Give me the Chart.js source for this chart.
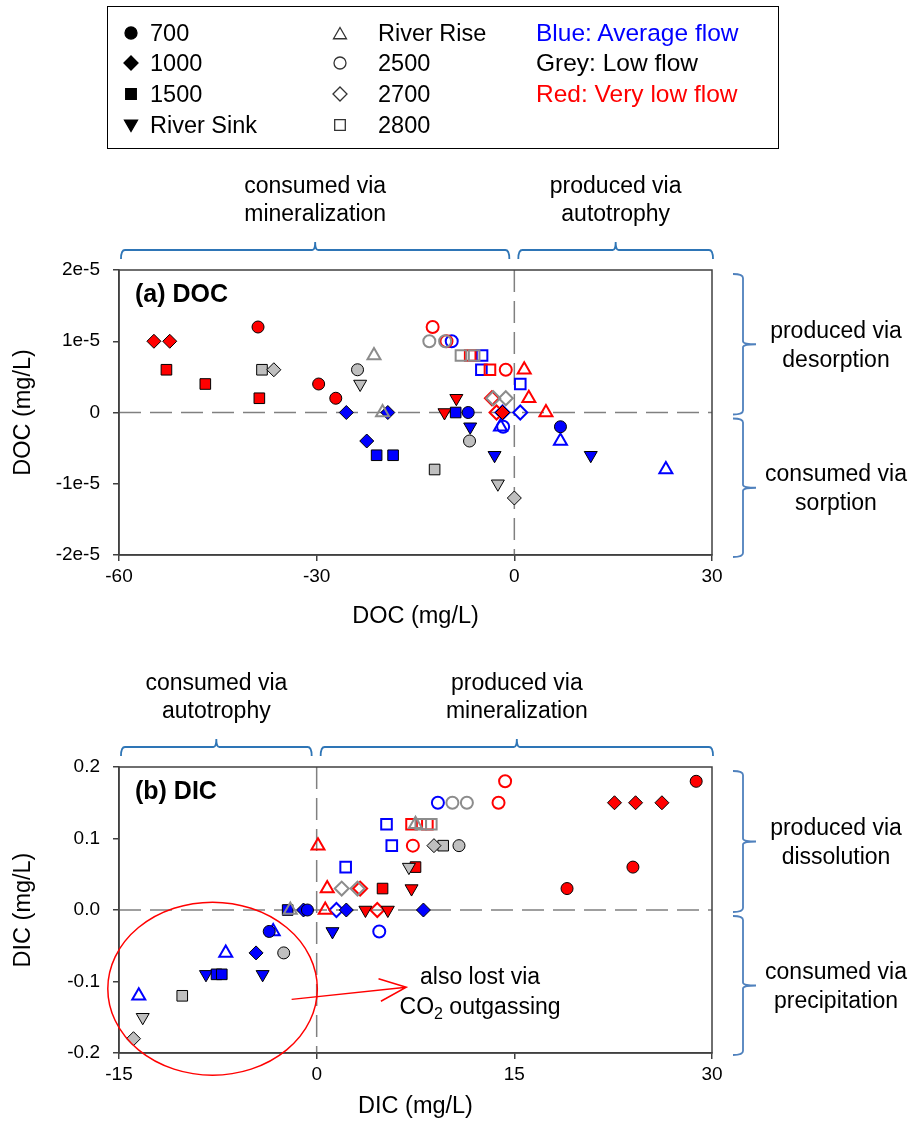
<!DOCTYPE html>
<html>
<head>
<meta charset="utf-8">
<script src="https://cdn.jsdelivr.net/npm/chart.js@4"></script>
<style>
  body { margin: 0; background: #fff; width: 909px; height: 1124px; position: relative; overflow: hidden;
         font-family: 'Liberation Sans', Arial, sans-serif; }
  #legendBox { position: absolute; left: 107px; top: 6px; width: 672px; height: 143px; border: 1.5px solid #000; box-sizing: border-box; }
  .lt { position: absolute; font-size: 23.5px; line-height: 26px; white-space: nowrap; }
  canvas { position: absolute; left: 0; }
</style>
</head>
<body>
<div id="legendBox"></div>
<canvas id="legendMarks" width="909" height="150" style="top:0px"></canvas>
<canvas id="docChart" width="909" height="490" style="top:160px"></canvas>
<canvas id="dicChart" width="909" height="464" style="top:660px"></canvas>
<script>
// ---- data ----
// sites: 700, 1000, 1500, Sink (River Sink), Rise (River Rise), 2500, 2700, 2800
// flows: avg (blue), low (grey), vlow (red)

// (a) DOC
const docX = [-54.7, -52.3, -38.9, -52.8, -46.9, -29.7, -38.7, -27.1, -12.4, -10.3, -6.7, -3.7, -1.3, 1.5, 2.2, 4.8, -3.4, -2.7, -8.8, -10.6, -1.8,
              -38.3, -36.5, -21.3, -20.0, -23.8, -6.8, -23.4, -2.5, -12.1, -12.9, -10.5, -8.1, -6.1, -3.2, -1.3, 0.0,
              -25.5, -19.2, -22.4, -20.9, -18.4, -8.9, -7.0, 7.0, -6.7, -3.0, 11.6, -2.1, 7.0, 23.0, -9.5, -1.7, -1.8, 0.9, -4.9, -5.0, 0.9];
const docY = [1.0e-5, 1.0e-5, 1.2e-5, 0.6e-5, 0.4e-5, 0.4e-5, 0.2e-5, 0.2e-5, 1.2e-5, 1.0e-5, 0.8e-5, 0.6e-5, 0.6e-5, 0.6e-5, 0.2e-5, 0, 0.2e-5, 0, 0.2e-5, 0, 0,
              0.6e-5, 0.6e-5, 0.8e-5, 0, 0.6e-5, -0.4e-5, 0.4e-5, -1.0e-5, -0.8e-5, 1.0e-5, 1.0e-5, 0.8e-5, 0.8e-5, 0.2e-5, 0.2e-5, -1.2e-5,
              0, 0, -0.4e-5, -0.6e-5, -0.6e-5, 0, 0, -0.2e-5, -0.2e-5, -0.6e-5, -0.6e-5, -0.2e-5, -0.4e-5, -0.8e-5, 1.0e-5, -0.2e-5, 0, 0, 0.8e-5, 0.6e-5, 0.4e-5];
const docSite = ['1000', '1000', '700', '1500', '1500', '700', '1500', '700', '2500', '2500', '2800', '2800', '2500', 'Rise', 'Rise', 'Rise', '2700', '2700', 'Sink', 'Sink', '1000',
                 '1500', '1000', 'Rise', 'Rise', '700', '700', 'Sink', 'Sink', '1500', '2500', '2500', '2800', '2800', '2700', '2700', '1000',
                 '1000', '1000', '1000', '1500', '1500', '1500', '700', '700', 'Sink', 'Sink', 'Sink', 'Rise', 'Rise', 'Rise', '2500', '2500', '2700', '2700', '2800', '2800', '2800'];
const docFlow = [...Array(21).fill('vlow'), ...Array(16).fill('low'), ...Array(21).fill('avg')];

// (b) DIC
const dicX = [0.1, 0.8, 0.65, 3.3, 4.6, 5.0, 7.5, 7.2, 3.7, 5.4, 7.3, 13.8, 14.3, 7.2, 8.4, 28.8, 24.0, 19.0, 22.6, 24.2, 26.2,
              -2.0, 7.5, -2.5, 10.8, -10.2, 9.6, -13.2, 7.0, -13.9, 8.9, 1.9, 3.1, 10.3, 11.4, 7.9, 8.7,
              -2.2, -7.6, -7.2, -1.0, -4.6, 2.25, 8.1, -0.7, -3.6, -3.3, -6.9, -13.5, -8.4, -4.1, 1.2, 1.5, 4.75, 9.2, 2.2, 5.7, 5.3];
const dicY = [0.09, 0.03, 0, 0.03, 0, 0.03, 0.06, 0.03, 0, 0, 0.09, 0.15, 0.18, 0.12, 0.12, 0.18, 0.06, 0.03, 0.15, 0.15, 0.15,
              0, 0.12, -0.06, 0.09, -0.12, 0.09, -0.15, 0.06, -0.18, 0.09, 0.03, 0.03, 0.15, 0.15, 0.12, 0.12,
              0, -0.09, -0.09, 0, -0.06, 0, 0, 0, -0.03, -0.03, -0.06, -0.12, -0.09, -0.09, -0.03, 0, -0.03, 0.15, 0.06, 0.09, 0.12];
const dicSite = ['Rise', 'Rise', 'Rise', '2700', '2700', '1500', '1500', 'Sink', 'Sink', 'Sink', '2500', '2500', '2500', '2800', '2800', '700', '700', '700', '1000', '1000', '1000',
                 'Rise', 'Rise', '700', '700', '1500', '1500', 'Sink', 'Sink', '1000', '1000', '2700', '2700', '2500', '2500', '2800', '2800',
                 '1500', '1500', '1500', '1000', '1000', '1000', '1000', '700', '700', 'Rise', 'Rise', 'Rise', 'Sink', 'Sink', 'Sink', '2700', '2500', '2500', '2800', '2800', '2800'];
const dicFlow = [...Array(21).fill('vlow'), ...Array(16).fill('low'), ...Array(21).fill('avg')];

// tick labels
const docYTicks = ['-2e-5', '-1e-5', '0', '1e-5', '2e-5'];
const dicYTicks = ['-0.2', '-0.1', '0.0', '0.1', '0.2'];

// legend texts
const legendSites = ['700', '1000', '1500', 'River Sink', 'River Rise', '2500', '2700', '2800'];
const legendKeys = ['700', '1000', '1500', 'Sink', 'Rise', '2500', '2700', '2800'];
const flowLabels = ['Blue: Average flow', 'Grey: Low flow', 'Red: Very low flow'];
const flowLabelColors = ['#0000ff', '#000000', '#ff0000'];

// ---- styles ----
const siteKeys = ['700', '1000', '1500', 'Sink', 'Rise', '2500', '2700', '2800'];
const siteStyle = {
  '700':  { shape: 'circle',   filled: true,  r: 6 },
  '1000': { shape: 'rectRot',  filled: true,  r: 7 },
  '1500': { shape: 'rect',     filled: true,  r: 7.5 },
  'Sink': { shape: 'triangle', filled: true,  r: 7.5, rot: 180 },
  'Rise': { shape: 'triangle', filled: false, r: 7.5 },
  '2500': { shape: 'circle',   filled: false, r: 6 },
  '2700': { shape: 'rectRot',  filled: false, r: 7 },
  '2800': { shape: 'rect',     filled: false, r: 7.5 }
};
const fillColor = { avg: '#0000ff', low: '#bfbfbf', vlow: '#ff0000' };
const lineColor = { avg: '#0000ff', low: '#8c8c8c', vlow: '#ff0000' };

Chart.defaults.font.family = "'Liberation Sans', Arial, sans-serif";
Chart.defaults.color = '#000';

// legend (text as html, markers with chart.js point drawing)
{
  const rowsY = [33, 63, 94, 125];
  const lctx = document.getElementById('legendMarks').getContext('2d');
  legendSites.forEach((s, i) => {
    const col = Math.floor(i / 4), row = i % 4;
    const st = siteStyle[legendKeys[i]];
    lctx.save();
    lctx.fillStyle = st.filled ? '#000' : '#fff';
    lctx.strokeStyle = st.filled ? '#000' : '#333';
    lctx.lineWidth = 1.3;
    Chart.helpers.drawPoint(lctx, { pointStyle: st.shape, radius: st.r, rotation: st.rot || 0, borderWidth: 1.3 },
                            col ? 340 : 131, rowsY[row] + (st.shape === 'triangle' ? (st.rot ? -1 : 2) : 0));
    lctx.restore();
    const t = document.createElement('span');
    t.className = 'lt';
    t.textContent = s;
    t.style.left = (col ? 378 : 150) + 'px';
    t.style.top = (rowsY[row] - 13) + 'px';
    document.body.appendChild(t);
  });
  flowLabels.forEach((s, i) => {
    const t = document.createElement('span');
    t.className = 'lt';
    t.textContent = s;
    t.style.color = flowLabelColors[i];
    t.style.left = '536px';
    t.style.fontSize = '24.5px';
    t.style.top = (rowsY[i] - 13) + 'px';
    document.body.appendChild(t);
  });
}

function buildDatasets(xs, ys, sites, flows) {
  const out = [];
  ['low', 'vlow', 'avg'].forEach(f => {
    siteKeys.forEach(s => {
      const pts = [];
      for (let i = 0; i < xs.length; i++) {
        if (flows[i] === f && sites[i] === s) pts.push({ x: xs[i], y: ys[i] });
      }
      if (!pts.length) return;
      const st = siteStyle[s];
      out.push({
        label: s + ' ' + f,
        data: pts,
        pointStyle: st.shape,
        rotation: st.rot || 0,
        pointRadius: st.r,
        pointHoverRadius: st.r,
        backgroundColor: st.filled ? fillColor[f] : 'rgba(0,0,0,0)',
        borderColor: st.filled ? '#000' : lineColor[f],
        borderWidth: st.filled ? 1 : 2,
        showLine: false
      });
    });
  });
  return out;
}

function hBrace(ctx, x1, x2, y) {
  const xm = (x1 + x2) / 2, c = 9, t = 8;
  ctx.beginPath();
  ctx.moveTo(x1, y + c);
  ctx.quadraticCurveTo(x1, y, x1 + 4, y);
  ctx.lineTo(xm - 3, y);
  ctx.quadraticCurveTo(xm, y, xm, y - t);
  ctx.quadraticCurveTo(xm, y, xm + 3, y);
  ctx.lineTo(x2 - 4, y);
  ctx.quadraticCurveTo(x2, y, x2, y + c);
  ctx.stroke();
}

function vBrace(ctx, x, y1, y2) {
  const ym = (y1 + y2) / 2, c = 10, t = 13;
  ctx.beginPath();
  ctx.moveTo(x - c, y1);
  ctx.quadraticCurveTo(x, y1, x, y1 + 4);
  ctx.lineTo(x, ym - 3);
  ctx.quadraticCurveTo(x, ym, x + t, ym);
  ctx.quadraticCurveTo(x, ym, x, ym + 3);
  ctx.lineTo(x, y2 - 4);
  ctx.quadraticCurveTo(x, y2, x - c, y2);
  ctx.stroke();
}

const FONT = "'Liberation Sans', Arial, sans-serif";

const decor = {
  id: 'decor',
  beforeDatasetsDraw(chart, args, o) {
    const { ctx, chartArea: a, scales: { x, y } } = chart;
    const x0 = x.getPixelForValue(0), y0 = y.getPixelForValue(0);
    ctx.save();
    ctx.strokeStyle = '#808080';
    ctx.lineWidth = 1.5;
    ctx.setLineDash([22, 9]);
    ctx.beginPath();
    ctx.moveTo(a.left, y0); ctx.lineTo(a.right, y0);
    ctx.moveTo(x0, a.top); ctx.lineTo(x0, a.bottom);
    ctx.stroke();
    ctx.setLineDash([]);
    ctx.strokeStyle = '#404040';
    ctx.strokeRect(a.left, a.top, a.right - a.left, a.bottom - a.top);
    ctx.restore();
  },
  afterDraw(chart, args, o) {
    const { ctx, chartArea: a, scales: { x, y } } = chart;
    const x0 = x.getPixelForValue(0), y0 = y.getPixelForValue(0);
    ctx.save();
    // panel label
    ctx.fillStyle = '#000';
    ctx.font = 'bold 25px ' + FONT;
    ctx.textAlign = 'left';
    ctx.textBaseline = 'middle';
    ctx.fillText(o.label, a.left + 16, a.top + 25);

    ctx.font = '23px ' + FONT;
    ctx.textAlign = 'center';
    // top braces
    ctx.strokeStyle = '#2E75B6';
    ctx.lineWidth = 1.8;
    const tb = [[a.left + 2, x0 - 5, o.top[0]], [x0 + 4, a.right + 1, o.top[1]]];
    tb.forEach(([x1, x2, lines]) => {
      hBrace(ctx, x1, x2, a.top - 20);
      const xm = (x1 + x2) / 2;
      ctx.fillText(lines[0], xm, a.top - 83);
      ctx.fillText(lines[1], xm, a.top - 55);
    });
    // right braces
    ctx.strokeStyle = '#4F81BD';
    const bx = a.right + 31;
    const rb = [[a.top + 4, y0 + 2, o.right[0]], [y0 + 6, a.bottom + 2, o.right[1]]];
    rb.forEach(([y1, y2, lines]) => {
      vBrace(ctx, bx, y1, y2);
      const ym = (y1 + y2) / 2;
      ctx.fillText(lines[0], a.right + 124, ym - 13);
      ctx.fillText(lines[1], a.right + 124, ym + 16);
    });
    // extra (ellipse + arrow)
    if (o.ellipse) {
      const e = o.ellipse;
      const cx = x.getPixelForValue(e.cx), cy = y.getPixelForValue(e.cy);
      const rx = Math.abs(x.getPixelForValue(e.cx + e.rx) - cx);
      const ry = Math.abs(y.getPixelForValue(e.cy + e.ry) - cy);
      ctx.strokeStyle = '#ff0000';
      ctx.lineWidth = 1.5;
      ctx.beginPath();
      ctx.ellipse(cx, cy, rx, ry, 0, 0, Math.PI * 2);
      ctx.stroke();
      const ax1 = x.getPixelForValue(e.arrow[0]), ay1 = y.getPixelForValue(e.arrow[1]);
      const ax2 = x.getPixelForValue(e.arrow[2]), ay2 = y.getPixelForValue(e.arrow[3]);
      const ang = Math.atan2(ay2 - ay1, ax2 - ax1);
      ctx.beginPath();
      ctx.moveTo(ax1, ay1); ctx.lineTo(ax2, ay2);
      ctx.moveTo(ax2 - 29 * Math.cos(ang - 0.4), ay2 - 29 * Math.sin(ang - 0.4));
      ctx.lineTo(ax2, ay2);
      ctx.lineTo(ax2 - 29 * Math.cos(ang + 0.4), ay2 - 29 * Math.sin(ang + 0.4));
      ctx.stroke();
      const tx = x.getPixelForValue(e.text[0]);
      ctx.fillStyle = '#000';
      ctx.font = '23px ' + FONT;
      ctx.textAlign = 'center';
      ctx.fillText('also lost via', tx, y.getPixelForValue(e.text[1]));
      // CO2 outgassing with subscript
      const ty = y.getPixelForValue(e.text[2]);
      const w1 = ctx.measureText('CO').width;
      const w3 = ctx.measureText(' outgassing').width;
      ctx.font = '16px ' + FONT;
      const w2 = ctx.measureText('2').width;
      const sx = tx - (w1 + w2 + w3) / 2;
      ctx.textAlign = 'left';
      ctx.fillText('2', sx + w1, ty + 7);
      ctx.font = '23px ' + FONT;
      ctx.fillText('CO', sx, ty);
      ctx.fillText(' outgassing', sx + w1 + w2, ty);
    }
    ctx.restore();
  }
};

function makeChart(id, xs, ys, sites, flows, cfg) {
  return new Chart(document.getElementById(id), {
    type: 'scatter',
    data: { datasets: buildDatasets(xs, ys, sites, flows) },
    options: {
      responsive: false,
      animation: false,
      events: [],
      layout: { padding: { top: cfg.padTop, right: 197, left: 0, bottom: 0 } },
      scales: {
        x: {
          type: 'linear', min: cfg.xMin, max: cfg.xMax,
          ticks: { stepSize: cfg.xStep, font: { size: 19 }, padding: 4, maxRotation: 0 },
          grid: { drawOnChartArea: false, drawTicks: true, tickLength: 6, color: '#404040', lineWidth: 1.5 },
          border: { display: true, color: '#404040', width: 1.5 },
          title: { display: true, text: cfg.xTitle, font: { size: 23.5 }, padding: { top: 0, bottom: cfg.xTitlePad } },
          afterFit: s => { s.height = cfg.xHeight; }
        },
        y: {
          type: 'linear', min: cfg.yMin, max: cfg.yMax,
          ticks: {
            stepSize: cfg.yStep, font: { size: 19 }, padding: 13,
            callback: v => cfg.yLabels[Math.round((v - cfg.yMin) / cfg.yStep)]
          },
          grid: { drawOnChartArea: false, drawTicks: true, tickLength: 6, color: '#404040', lineWidth: 1.5 },
          border: { display: true, color: '#404040', width: 1.5 },
          title: { display: true, text: cfg.yTitle, font: { size: 23.5 }, padding: { top: 9, bottom: 0 } },
          afterFit: s => { s.width = 119; }
        }
      },
      plugins: {
        legend: { display: false },
        tooltip: { enabled: false },
        decor: cfg.decor
      }
    },
    plugins: [decor]
  });
}

makeChart('docChart', docX, docY, docSite, docFlow, {
  padTop: 110, xMin: -60, xMax: 30, xStep: 30, yMin: -2e-5, yMax: 2e-5, yStep: 1e-5,
  yLabels: docYTicks, xTitle: 'DOC (mg/L)', yTitle: 'DOC (mg/L)', xHeight: 95, xTitlePad: 19,
  decor: {
    label: '(a) DOC',
    top: [['consumed via', 'mineralization'], ['produced via', 'autotrophy']],
    right: [['produced via', 'desorption'], ['consumed via', 'sorption']]
  }
});

makeChart('dicChart', dicX, dicY, dicSite, dicFlow, {
  padTop: 107, xMin: -15, xMax: 30, xStep: 15, yMin: -0.2, yMax: 0.2, yStep: 0.1,
  yLabels: dicYTicks, xTitle: 'DIC (mg/L)', yTitle: 'DIC (mg/L)', xHeight: 71, xTitlePad: 3,
  decor: {
    label: '(b) DIC',
    top: [['consumed via', 'autotrophy'], ['produced via', 'mineralization']],
    right: [['produced via', 'dissolution'], ['consumed via', 'precipitation']],
    ellipse: { cx: -7.9, cy: -0.11, rx: 7.95, ry: 0.121, arrow: [-1.9, -0.125, 6.8, -0.108], text: [12.4, -0.095, -0.136] }
  }
});
</script>
</body>
</html>
